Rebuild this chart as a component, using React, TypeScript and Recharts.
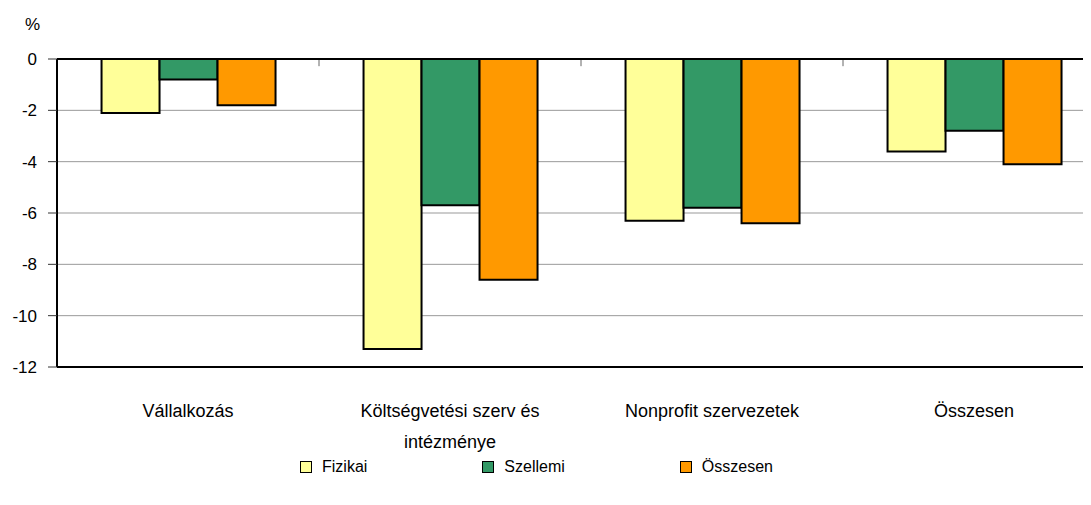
import {
  Bar,
  BarChart,
  CartesianGrid,
  Legend,
  ReferenceLine,
  XAxis,
  YAxis,
} from "recharts";

const categories = [
  "Vállalkozás",
  "Költségvetési szerv és intézménye",
  "Nonprofit szervezetek",
  "Összesen",
];
const fizikai = [-2.1, -11.3, -6.3, -3.6];
const szellemi = [-0.8, -5.7, -5.8, -2.8];
const osszesen = [-1.8, -8.6, -6.4, -4.1];
const yTicks = [-12, -10, -8, -6, -4, -2, 0];

const SERIES = [
  { key: "fizikai", name: "Fizikai", color: "#FFFF99" },
  { key: "szellemi", name: "Szellemi", color: "#339966" },
  { key: "osszesen", name: "Összesen", color: "#FF9900" },
];

const FONT = '"Liberation Sans", Arial, sans-serif';

const data = categories.map((cat, i) => ({
  cat,
  fizikai: fizikai[i],
  szellemi: szellemi[i],
  osszesen: osszesen[i],
}));

// greedy word wrap, category labels are short
const wrap = (s: string, max: number) => {
  const lines: string[] = [];
  let cur = "";
  s.split(" ").forEach((w) => {
    if (cur && (cur + " " + w).length > max) {
      lines.push(cur);
      cur = w;
    } else {
      cur = cur ? cur + " " + w : w;
    }
  });
  if (cur) lines.push(cur);
  return lines;
};

const CategoryTick = (props: any) => {
  const { x, y, payload } = props;
  const lines = wrap(payload.value, 24);
  return (
    <text
      x={x}
      y={y + 50}
      textAnchor="middle"
      fontSize={18}
      fontFamily={FONT}
      fill="#000"
    >
      {lines.map((l, i) => (
        <tspan key={i} x={x} dy={i === 0 ? 0 : 31}>
          {l}
        </tspan>
      ))}
    </text>
  );
};

const LegendContent = () => (
  <div style={{ display: "flex", fontFamily: FONT, fontSize: 16 }}>
    {SERIES.map((s) => (
      <div
        key={s.key}
        style={{ display: "flex", alignItems: "center", marginRight: 115 }}
      >
        <span
          style={{
            width: 10,
            height: 10,
            background: s.color,
            border: "1px solid #000",
            marginRight: 10,
          }}
        />
        <span>{s.name}</span>
      </div>
    ))}
  </div>
);

export default function App() {
  return (
    <div
      style={{
        position: "relative",
        width: 1083,
        height: 497,
        overflow: "hidden",
        fontFamily: FONT,
      }}
    >
      <div
        style={{
          position: "absolute",
          left: 17,
          top: 7,
          fontSize: 17,
          color: "#000",
        }}
      >
        %
      </div>
      <BarChart
        width={1110}
        height={497}
        data={data}
        margin={{ top: 51, right: 13, bottom: 80, left: 0 }}
        barCategoryGap="17%"
        barGap={0}
      >
        <CartesianGrid vertical={false} stroke="#999" strokeWidth={1} />
        <XAxis
          dataKey="cat"
          height={58}
          interval={0}
          tickSize={0}
          tickMargin={0}
          tickLine={false}
          axisLine={{ stroke: "#000", strokeWidth: 2 }}
          tick={<CategoryTick />}
        />
        <YAxis
          width={49}
          domain={[-12, 0]}
          ticks={yTicks}
          interval={0}
          tickSize={9}
          tickMargin={11}
          axisLine={{ stroke: "#000", strokeWidth: 2 }}
          tickLine={{ stroke: "#333" }}
          tick={{ fill: "#000", fontSize: 17, fontFamily: FONT }}
        />
        {categories.slice(1).map((c) => (
          <ReferenceLine
            key={c}
            position="start"
            segment={[
              { x: c, y: 0 },
              { x: c, y: -0.28 },
            ]}
            stroke="#666"
          />
        ))}
        <ReferenceLine y={0} stroke="#000" strokeWidth={2} />
        {SERIES.map((s) => (
          <Bar
            key={s.key}
            dataKey={s.key}
            name={s.name}
            fill={s.color}
            stroke="#000"
            strokeWidth={2}
            isAnimationActive={false}
          />
        ))}
        <Legend
          verticalAlign="middle"
          align="center"
          layout="horizontal"
          wrapperStyle={{ top: 450, left: 292, width: 700, height: 20 }}
          content={<LegendContent />}
        />
      </BarChart>
    </div>
  );
}
